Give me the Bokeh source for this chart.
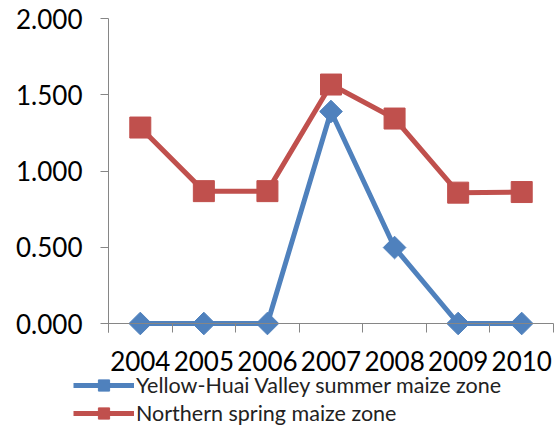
from bokeh.plotting import figure
from bokeh.models import (FixedTicker, Legend, LegendItem, NumeralTickFormatter,
                          ColumnDataSource, LinearAxis)
from bokeh.embed import file_html
from bokeh.resources import INLINE

years = ["2004", "2005", "2006", "2007", "2008", "2009", "2010"]
yellow_huai = [0.0, 0.0, 0.0, 1.39, 0.498, 0.0, 0.0]
northern = [1.285, 0.868, 0.868, 1.567, 1.344, 0.858, 0.862]
y_ticks = [0.0, 0.5, 1.0, 1.5, 2.0]

BLUE = "#4F81BD"
RED = "#C0504D"
AXIS = "#868686"
FONT = "Lato"

n = len(years)
xpos = [i + 0.5 for i in range(n)]
src = ColumnDataSource(dict(x=xpos, yh=yellow_huai, ns=northern))

W, H = 560, 429
px_x = 445 / n          # pixels per category
px_y = 305 / 2.0        # pixels per unit
p = figure(width=W, height=H, output_backend="svg", toolbar_location=None,
           x_axis_location=None, y_axis_location=None,
           x_range=(-108 / px_x, n + 7 / px_x),
           y_range=(-(H - 323) / px_y, 2.0 + 18 / px_y),
           min_border_left=0, min_border_right=0, min_border_top=0, min_border_bottom=0)
p.outline_line_color = None
p.grid.grid_line_color = None
p.background_fill_color = "white"
p.border_fill_color = "white"

# x axis placed at y = 0
xa = LinearAxis(fixed_location=0, bounds=(0, n))
xa.ticker = FixedTicker(ticks=xpos, minor_ticks=list(range(n + 1)))
xa.major_label_overrides = {x: y for x, y in zip(xpos, years)}
xa.axis_line_color = AXIS
xa.major_tick_line_color = None
xa.major_tick_out = 0
xa.major_tick_in = 0
xa.minor_tick_line_color = AXIS
xa.minor_tick_in = 0
xa.minor_tick_out = 9
xa.major_label_standoff = 18
xa.major_label_text_font = FONT
xa.major_label_text_font_size = "26px"
xa.major_label_text_color = "#000000"
p.add_layout(xa, "below")

# y axis placed at x = 0
ya = LinearAxis(fixed_location=0, bounds=(-9 / px_y, 2.0))
ya.ticker = FixedTicker(ticks=y_ticks, minor_ticks=[])
ya.formatter = NumeralTickFormatter(format="0.000")
ya.axis_line_color = AXIS
ya.major_tick_line_color = AXIS
ya.major_tick_out = 8
ya.major_tick_in = 0
ya.minor_tick_line_color = None
ya.major_label_standoff = 18
ya.major_label_text_font = FONT
ya.major_label_text_font_size = "26px"
ya.major_label_text_color = "#000000"
p.add_layout(ya, "left")

l1 = p.line("x", "yh", source=src, line_color=BLUE, line_width=5)
m1 = p.scatter("x", "yh", source=src, marker="square", size=16, angle=0.785398,
               fill_color=BLUE, line_color=BLUE)
l2 = p.line("x", "ns", source=src, line_color=RED, line_width=5)
m2 = p.scatter("x", "ns", source=src, marker="square", size=21,
               fill_color=RED, line_color=RED)

legend = Legend(items=[
    LegendItem(label="Yellow-Huai Valley summer maize zone", renderers=[l1, m1]),
    LegendItem(label="Northern spring maize zone", renderers=[l2, m2]),
], location=(73, 2), orientation="vertical")
legend.border_line_color = None
legend.background_fill_alpha = 0
legend.padding = 0
legend.margin = 0
legend.spacing = 0
legend.glyph_width = 61
legend.glyph_height = 28
legend.label_height = 28
legend.label_standoff = 2
legend.label_text_font = FONT
legend.label_text_font_size = "21.5px"
legend.label_text_color = "#222222"
p.add_layout(legend, "center")

open("out.html", "w").write(file_html(p, INLINE))
